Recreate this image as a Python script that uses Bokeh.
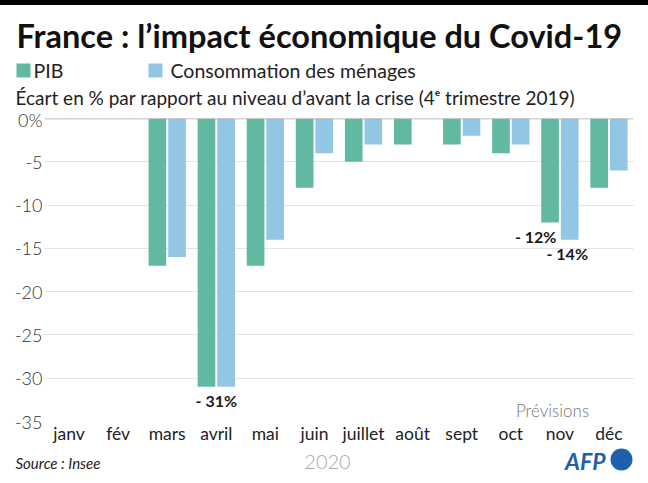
from bokeh.plotting import figure
from bokeh.layouts import column, row
from bokeh.models import Range1d, FactorRange, Label, Span, FixedTicker, ColumnDataSource, Plot, Div
from bokeh.transform import dodge
from bokeh.embed import file_html
from bokeh.resources import INLINE

# ---- data ----
months = ["janv", "fév", "mars", "avril", "mai", "juin", "juillet", "août", "sept", "oct", "nov", "déc"]
pib = [0, 0, -17, -31, -17, -8, -5, -3, -3, -4, -12, -8]
conso = [0, 0, -16, -31, -14, -4, -3, 0, -2, -3, -14, -6]
y_ticks = [0, -5, -10, -15, -20, -25, -30, -35]
y_tick_labels = ["0%", "-5", "-10", "-15", "-20", "-25", "-30", "-35"]
annot_month = ["avril", "nov", "nov"]
annot_value = [-31, -12, -14]
annot_text = ["- 31%", "- 12%", "- 14%"]
series_names = ["PIB", "Consommation des ménages"]

GREEN = "#62b9a2"
BLUE = "#93c5e4"
AFP_BLUE = "#1f60ae"
FONT = "Lato"
LIGHT = "Lato Light, Lato"
W = 648
HAS_FRAME_ALIGN = "frame_align" in Plot.properties()


def bare(fig):
    fig.outline_line_color = None
    fig.xaxis.visible = False
    fig.yaxis.visible = False
    fig.grid.visible = False
    fig.min_border = 0
    return fig


def txt(fig, x, y, text, size, color="#1a1a1a", style="normal", font=FONT, align="left"):
    fig.add_layout(Label(x=x, y=y, text=text, text_align=align, text_baseline="middle",
                         text_font=font, text_font_size=size, text_font_style=style,
                         text_color=color))


# ---- top black band ----
H0 = 5
band = Div(text="", width=W, height=H0, margin=0,
           styles={"background-color": "black", "overflow": "hidden"})

# ---- header: x = page px, y = TOP - page px (y up) ----
H1 = 103
TOP = H0 + H1
head = bare(figure(width=W, height=H1, x_range=Range1d(0, W), y_range=Range1d(0, H1),
                   output_backend="svg", toolbar_location=None, title=None))
txt(head, 16, TOP - 35, "France : l\u2019impact économique du Covid-19", "32.5px", "#111111", "bold")
head.quad(left=[16], right=[30], bottom=[TOP - 77], top=[TOP - 63], fill_color=GREEN, line_color=None)
txt(head, 33, TOP - 70, series_names[0], "19.5px", "#222222")
head.quad(left=[148], right=[162], bottom=[TOP - 77], top=[TOP - 63], fill_color=BLUE, line_color=None)
txt(head, 170, TOP - 70, series_names[1], "19.5px", "#222222")
txt(head, 15, TOP - 97, "Écart en % par rapport au niveau d\u2019avant la crise (4\u1d49 trimestre 2019)",
    "19px", "#222222")

# ---- main chart ----
H2 = 338
src = ColumnDataSource(dict(month=months, pib=pib, conso=conso))
p = figure(width=W, height=H2, x_range=FactorRange(*months), y_range=Range1d(-35, 0),
           output_backend="svg", toolbar_location=None,
           min_border_left=44, min_border_right=15, min_border_top=10, min_border_bottom=24)
p.outline_line_color = None

p.vbar(x=dodge("month", -0.2, range=p.x_range), top="pib", bottom=0, width=0.36,
       source=src, fill_color=GREEN, line_color=None)
p.vbar(x=dodge("month", 0.2, range=p.x_range), top="conso", bottom=0, width=0.36,
       source=src, fill_color=BLUE, line_color=None)

p.yaxis.ticker = FixedTicker(ticks=y_ticks)
p.yaxis.major_label_overrides = {t: l for t, l in zip(y_ticks, y_tick_labels)}
p.yaxis.axis_line_color = None
p.yaxis.major_tick_line_color = None
p.yaxis.minor_tick_line_color = None
p.yaxis.major_tick_out = 0
p.yaxis.major_tick_in = 0
p.yaxis.minor_tick_out = 0
p.yaxis.major_label_standoff = 2
p.yaxis.major_label_text_font = LIGHT
p.yaxis.major_label_text_font_size = "18px"
p.yaxis.major_label_text_color = "#333333"

p.xaxis.axis_line_color = None
p.xaxis.major_tick_line_color = None
p.xaxis.minor_tick_line_color = None
p.xaxis.major_tick_out = 0
p.xaxis.major_tick_in = 0
p.xaxis.major_label_standoff = 1
p.xaxis.major_label_text_font = FONT
p.xaxis.major_label_text_font_size = "17.5px"
p.xaxis.major_label_text_color = "#222222"

p.xgrid.grid_line_color = None
p.ygrid.grid_line_color = "#c8c8c8"
p.ygrid.grid_line_dash = "1 1"
p.ygrid.grid_line_width = 1

p.add_layout(Span(location=0, dimension="width", line_color="#a8a8a8", line_width=1.3))

ann_dx = [0.0, -0.07, 0.15]
ann_dy = [-1.6, -1.65, -1.65]
ann_align = ["center", "right", "center"]
for m, v, t, dx, dy, al in zip(annot_month, annot_value, annot_text, ann_dx, ann_dy, ann_align):
    xi = months.index(m) + 0.5 + dx
    p.add_layout(Label(x=xi, y=v + dy, text=t, text_align=al, text_baseline="middle",
                       text_font=FONT, text_font_style="bold", text_font_size="16px",
                       text_color="#1a1a1a"))

p.add_layout(Label(x=10.35, y=-33.75, text="Prévisions", text_align="center", text_baseline="middle",
                   text_font=LIGHT, text_font_size="17px", text_color="#777777"))

# ---- footer (coordinates = page pixels) ----
Y0 = H0 + H1 + H2
H3 = 483 - Y0
foot = bare(figure(width=W, height=H3, x_range=Range1d(0, W), y_range=Range1d(Y0 + H3, Y0),
                   output_backend="svg", toolbar_location=None, title=None))
txt(foot, 15, 462, "Source : Insee", "15px", "#222222", "italic")
txt(foot, 327, 461, "2020", "20px", "#aaaaaa", font=LIGHT, align="center")
txt(foot, 605, 460, "AFP", "23px", AFP_BLUE, "bold italic", align="right")
foot.scatter(x=[621], y=[459], size=22, marker="circle", fill_color=AFP_BLUE, line_color=None)

figs = (head, p, foot)
if HAS_FRAME_ALIGN:
    for f in figs:
        f.frame_align = False
    layout = column(band, *figs, spacing=0)
else:
    layout = column(band, *[row(f) for f in figs], spacing=0)

open("out.html", "w").write(file_html(layout, INLINE))
